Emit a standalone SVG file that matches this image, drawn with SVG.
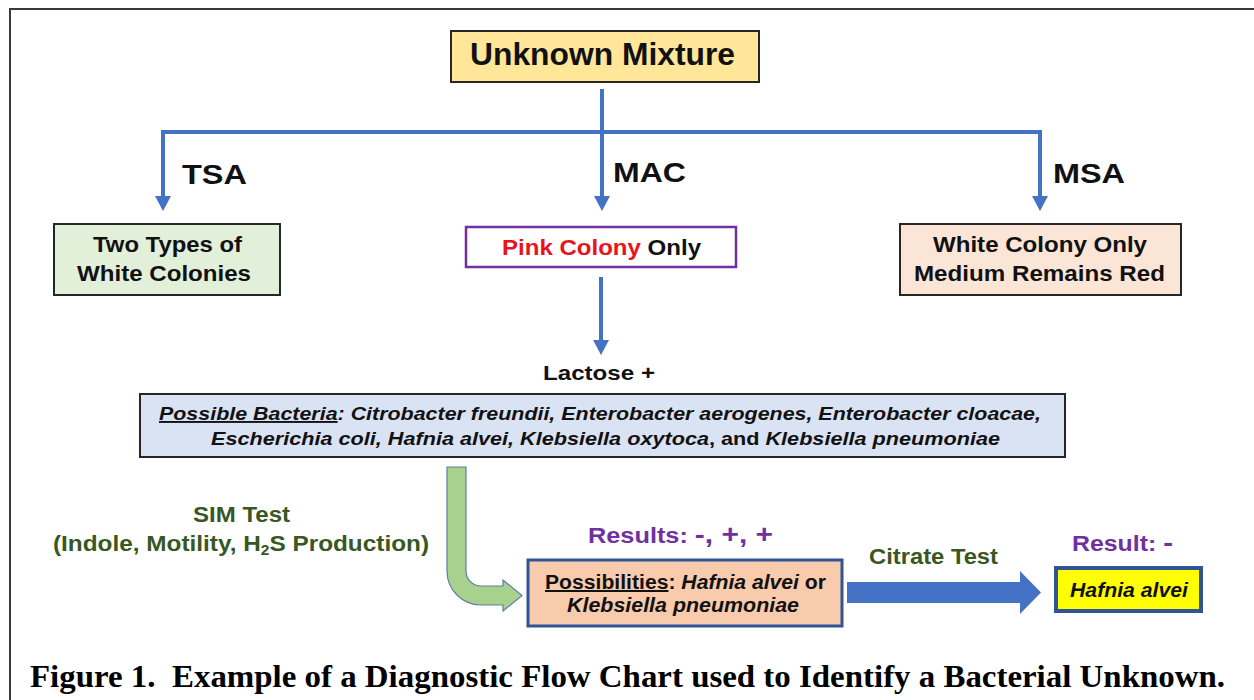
<svg xmlns="http://www.w3.org/2000/svg" width="1254" height="700" viewBox="0 0 1254 700">
<style>
.t{font-family:"Liberation Sans",Arial,sans-serif;font-weight:bold;fill:#111}
.box{stroke:#262626;stroke-width:2}
.conn{stroke:#4472C4;stroke-width:4;fill:none}
.grn{fill:#385723}
.pur{fill:#7030A0}
.it{font-style:italic}
.u{text-decoration:underline}
</style>
<defs>
<marker id="ah" markerUnits="userSpaceOnUse" markerWidth="16" markerHeight="16" refX="1" refY="8" orient="auto">
<path d="M0,0 L15,8 L0,16 Z" fill="#4472C4"/>
</marker>
</defs>
<rect width="1254" height="700" fill="#ffffff"/>
<path d="M10,700 L10,9 L1254,9" fill="none" stroke="#3a3a3a" stroke-width="2"/>

<g id="connectors">
<line class="conn" x1="602" y1="89" x2="602" y2="132"/>
<line class="conn" x1="161" y1="132" x2="1042" y2="132"/>
<line class="conn" x1="163" y1="130" x2="163" y2="197" marker-end="url(#ah)"/>
<line class="conn" x1="602" y1="132" x2="602" y2="197" marker-end="url(#ah)"/>
<line class="conn" x1="1040" y1="130" x2="1040" y2="197" marker-end="url(#ah)"/>
<line class="conn" x1="601" y1="277" x2="601" y2="341" marker-end="url(#ah)"/>
<path id="sim-arrow" d="M447,467 L466,467 L466,571 A15,15 0 0 0 481,586 L503,586 L503,580 L522,595.5 L503,611 L503,605 L481,605 A34,34 0 0 1 447,571 Z" fill="#A9D18E" stroke="#5B7FA6" stroke-width="1.2"/>
<path id="citrate-arrow" d="M847,582 L1020,582 L1020,571 L1041,592.5 L1020,614 L1020,603 L847,603 Z" fill="#4472C4"/>
</g>

<g id="unknown">
<rect class="box" x="451" y="31" width="308" height="51" fill="#FFE699"/>
<text class="t" x="602.5" y="65" font-size="31" text-anchor="middle" textLength="265" lengthAdjust="spacingAndGlyphs">Unknown Mixture</text>
</g>

<g id="lbl-tsa"><text class="t" x="182" y="184" font-size="27" textLength="65" lengthAdjust="spacingAndGlyphs">TSA</text></g>
<g id="lbl-mac"><text class="t" x="613" y="182" font-size="27" textLength="73" lengthAdjust="spacingAndGlyphs">MAC</text></g>
<g id="lbl-msa"><text class="t" x="1053" y="183" font-size="27" textLength="72" lengthAdjust="spacingAndGlyphs">MSA</text></g>

<g id="tsa">
<rect class="box" x="54" y="224" width="226" height="71" fill="#E2F0D9"/>
<text class="t" x="93" y="252" font-size="22" textLength="149" lengthAdjust="spacingAndGlyphs">Two Types of</text>
<text class="t" x="77" y="281" font-size="22" textLength="174" lengthAdjust="spacingAndGlyphs">White Colonies</text>
</g>

<g id="mac">
<rect x="466" y="227" width="270" height="40" fill="#ffffff" stroke="#7030A0" stroke-width="2.5"/>
<text class="t" x="502" y="255" font-size="22" textLength="199" lengthAdjust="spacingAndGlyphs"><tspan fill="#E8141B">Pink Colony</tspan> Only</text>
</g>

<g id="msa">
<rect class="box" x="900" y="224" width="281" height="71" fill="#FBE5D6"/>
<text class="t" x="933" y="252" font-size="22" textLength="214" lengthAdjust="spacingAndGlyphs">White Colony Only</text>
<text class="t" x="914" y="281" font-size="22" textLength="251" lengthAdjust="spacingAndGlyphs">Medium Remains Red</text>
</g>

<g id="lactose"><text class="t" x="543" y="380" font-size="21" textLength="112" lengthAdjust="spacingAndGlyphs">Lactose +</text></g>

<g id="bacteria">
<rect class="box" x="140" y="394" width="925" height="63" fill="#DAE3F3"/>
<text class="t it" x="159" y="420" font-size="19" textLength="882" lengthAdjust="spacingAndGlyphs"><tspan class="u">Possible Bacteria</tspan>: Citrobacter freundii, Enterobacter aerogenes, Enterobacter cloacae,</text>
<text class="t" x="211" y="445" font-size="19" textLength="789" lengthAdjust="spacingAndGlyphs"><tspan class="it">Escherichia coli, Hafnia alvei, Klebsiella oxytoca</tspan>, and <tspan class="it">Klebsiella pneumoniae</tspan></text>
</g>

<g id="sim-label">
<text class="t grn" x="193" y="522" font-size="22" textLength="97" lengthAdjust="spacingAndGlyphs">SIM Test</text>
<text class="t grn" x="53" y="551" font-size="22" textLength="376" lengthAdjust="spacingAndGlyphs">(Indole, Motility, H<tspan font-size="14" dy="4">2</tspan><tspan dy="-4">S Production)</tspan></text>
</g>

<g id="results">
<text class="t pur" x="588" y="543" font-size="22" textLength="185" lengthAdjust="spacingAndGlyphs">Results: <tspan font-size="26">-, +, +</tspan></text>
</g>

<g id="possibilities">
<rect x="528" y="560" width="314" height="66" fill="#F8CBAD" stroke="#2F5597" stroke-width="3"/>
<text class="t" x="545" y="589" font-size="20" textLength="281" lengthAdjust="spacingAndGlyphs"><tspan class="u">Possibilities</tspan>: <tspan class="it">Hafnia alvei</tspan> or</text>
<text class="t it" x="567" y="612" font-size="20" textLength="232" lengthAdjust="spacingAndGlyphs">Klebsiella pneumoniae</text>
</g>

<g id="citrate-label"><text class="t grn" x="869" y="564" font-size="22" textLength="129" lengthAdjust="spacingAndGlyphs">Citrate Test</text></g>

<g id="result">
<text class="t pur" x="1072" y="551" font-size="22" textLength="101" lengthAdjust="spacingAndGlyphs">Result: <tspan font-size="26">-</tspan></text>
</g>

<g id="hafnia">
<rect x="1056" y="568" width="145" height="43" fill="#FFFF00" stroke="#2F5597" stroke-width="4"/>
<text class="t it" x="1070" y="597" font-size="20" textLength="118" lengthAdjust="spacingAndGlyphs">Hafnia alvei</text>
</g>

<g id="caption">
<text x="30" y="687" font-family="'Liberation Serif','Times New Roman',serif" font-weight="bold" font-size="31" fill="#000" textLength="1195" lengthAdjust="spacingAndGlyphs" xml:space="preserve">Figure 1.  Example of a Diagnostic Flow Chart used to Identify a Bacterial Unknown.</text>
</g>
</svg>
